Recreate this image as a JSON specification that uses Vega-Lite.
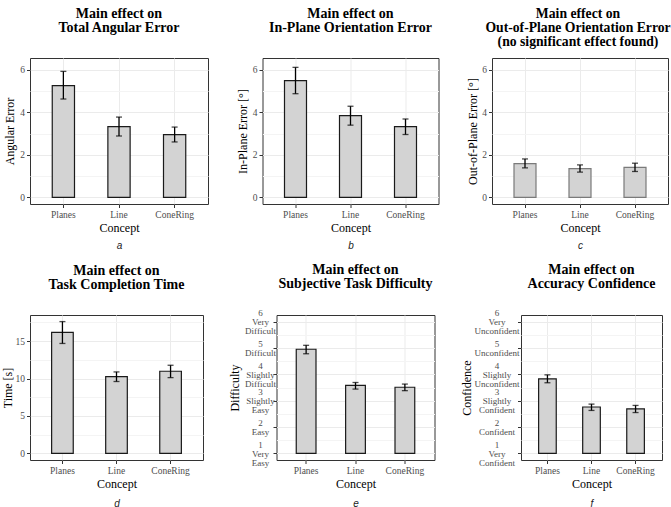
{
  "$schema": "https://vega.github.io/schema/vega-lite/v6.json",
  "padding": {"top": 6, "left": 0, "right": 0, "bottom": 0},
  "background": "white",
  "columns": 1,
  "align": "none",
  "center": false,
  "spacing": 11,
  "config": {
    "view": {"stroke": "#333333", "strokeWidth": 1},
    "title": {"font": "Liberation Serif", "fontSize": 14, "fontWeight": "bold", "lineHeight": 14, "anchor": "middle", "frame": "group", "offset": 9, "color": "black"},
    "axis": {"labelFont": "Liberation Serif", "labelFontSize": 9.5, "labelColor": "#4d4d4d", "titleFont": "Liberation Serif", "titleFontSize": 12, "titleFontWeight": "normal", "titleColor": "black", "tickColor": "#333333", "tickSize": 3.5, "tickWidth": 1, "domain": false, "gridColor": "#ebebeb", "gridWidth": 1, "labelPadding": 2, "titlePadding": 3, "labelOverlap": false, "labelFlush": false, "minExtent": 0}
  },
  "datasets": {
    "a": [{"Concept": "Planes", "mean": 5.26, "lo": 4.63, "hi": 5.93}, {"Concept": "Line", "mean": 3.33, "lo": 2.89, "hi": 3.78}, {"Concept": "ConeRing", "mean": 2.95, "lo": 2.61, "hi": 3.31}],
    "b": [{"Concept": "Planes", "mean": 5.5, "lo": 4.88, "hi": 6.12}, {"Concept": "Line", "mean": 3.85, "lo": 3.4, "hi": 4.29}, {"Concept": "ConeRing", "mean": 3.33, "lo": 2.96, "hi": 3.69}],
    "c": [{"Concept": "Planes", "mean": 1.59, "lo": 1.39, "hi": 1.81}, {"Concept": "Line", "mean": 1.35, "lo": 1.19, "hi": 1.53}, {"Concept": "ConeRing", "mean": 1.41, "lo": 1.22, "hi": 1.61}],
    "d": [{"Concept": "Planes", "mean": 16.15, "lo": 14.68, "hi": 17.6}, {"Concept": "Line", "mean": 10.24, "lo": 9.6, "hi": 10.88}, {"Concept": "ConeRing", "mean": 10.97, "lo": 10.12, "hi": 11.77}],
    "e": [{"Concept": "Planes", "mean": 4.95, "lo": 4.78, "hi": 5.1}, {"Concept": "Line", "mean": 3.58, "lo": 3.44, "hi": 3.69}, {"Concept": "ConeRing", "mean": 3.51, "lo": 3.38, "hi": 3.63}],
    "f": [{"Concept": "Planes", "mean": 3.83, "lo": 3.68, "hi": 3.98}, {"Concept": "Line", "mean": 2.76, "lo": 2.63, "hi": 2.87}, {"Concept": "ConeRing", "mean": 2.69, "lo": 2.55, "hi": 2.82}]
  },
  "concat": [
    {
      "spacing": 26.5,
      "hconcat": [
        {
          "width": 178, "height": 146,
          "title": {"text": ["Main effect on", "Total Angular Error", ""]},
          "data": {"name": "a"},
          "resolve": {"axis": {"x": "independent", "y": "independent"}},
          "layer": [
            {"mark": {"type": "bar", "fill": "#d3d3d3", "stroke": "#1a1a1a", "strokeWidth": 1.2},
             "encoding": {
               "x": {"field": "Concept", "type": "nominal", "sort": ["Planes", "Line", "ConeRing"], "scale": {"paddingInner": 0.6, "paddingOuter": 0.4}, "axis": {"title": "Concept", "bandPosition": 0.5, "grid": true, "labelAngle": 0, "orient": "bottom"}},
               "y": {"field": "mean", "type": "quantitative", "scale": {"domain": [-0.31, 6.56], "nice": false, "zero": false}, "axis": {"title": "Angular Error", "values": [0, 2, 4, 6], "grid": true, "orient": "left"}},
               "y2": {"datum": 0}
             }},
            {"mark": {"type": "rule", "color": "black", "strokeWidth": 1.3},
             "encoding": {
               "x": {"field": "Concept", "type": "nominal", "sort": ["Planes", "Line", "ConeRing"], "axis": {"orient": "bottom", "offset": 34, "labels": false, "ticks": false, "domain": false, "grid": false, "title": "a", "titleFont": "Liberation Sans", "titleFontStyle": "italic", "titleFontSize": 10, "titlePadding": 2, "titleColor": "#222222"}},
               "y": {"field": "lo", "type": "quantitative", "axis": {"orient": "right", "values": [1, 3, 5], "grid": true, "gridColor": "#f4f4f4", "labels": false, "ticks": false, "domain": false, "title": null}},
               "y2": {"field": "hi"}
             }},
            {"mark": {"type": "tick", "color": "black", "size": 6, "thickness": 1.3},
             "encoding": {"x": {"field": "Concept", "type": "nominal", "sort": ["Planes", "Line", "ConeRing"], "axis": null}, "y": {"field": "lo", "type": "quantitative", "axis": null}}},
            {"mark": {"type": "tick", "color": "black", "size": 6, "thickness": 1.3},
             "encoding": {"x": {"field": "Concept", "type": "nominal", "sort": ["Planes", "Line", "ConeRing"], "axis": null}, "y": {"field": "hi", "type": "quantitative", "axis": null}}}
          ]
        },
        {
          "width": 176, "height": 146,
          "title": {"text": ["Main effect on", "In-Plane Orientation Error", ""]},
          "data": {"name": "b"},
          "resolve": {"axis": {"x": "independent", "y": "independent"}},
          "layer": [
            {"mark": {"type": "bar", "fill": "#d3d3d3", "stroke": "#1a1a1a", "strokeWidth": 1.2},
             "encoding": {
               "x": {"field": "Concept", "type": "nominal", "sort": ["Planes", "Line", "ConeRing"], "scale": {"paddingInner": 0.6, "paddingOuter": 0.4}, "axis": {"title": "Concept", "bandPosition": 0.5, "grid": true, "labelAngle": 0, "orient": "bottom"}},
               "y": {"field": "mean", "type": "quantitative", "scale": {"domain": [-0.31, 6.56], "nice": false, "zero": false}, "axis": {"title": "In-Plane Error [°]", "values": [0, 2, 4, 6], "grid": true, "orient": "left"}},
               "y2": {"datum": 0}
             }},
            {"mark": {"type": "rule", "color": "black", "strokeWidth": 1.3},
             "encoding": {
               "x": {"field": "Concept", "type": "nominal", "sort": ["Planes", "Line", "ConeRing"], "axis": {"orient": "bottom", "offset": 34, "labels": false, "ticks": false, "domain": false, "grid": false, "title": "b", "titleFont": "Liberation Sans", "titleFontStyle": "italic", "titleFontSize": 10, "titlePadding": 2, "titleColor": "#222222"}},
               "y": {"field": "lo", "type": "quantitative", "axis": {"orient": "right", "values": [1, 3, 5], "grid": true, "gridColor": "#f4f4f4", "labels": false, "ticks": false, "domain": false, "title": null}},
               "y2": {"field": "hi"}
             }},
            {"mark": {"type": "tick", "color": "black", "size": 6, "thickness": 1.3},
             "encoding": {"x": {"field": "Concept", "type": "nominal", "sort": ["Planes", "Line", "ConeRing"], "axis": null}, "y": {"field": "lo", "type": "quantitative", "axis": null}}},
            {"mark": {"type": "tick", "color": "black", "size": 6, "thickness": 1.3},
             "encoding": {"x": {"field": "Concept", "type": "nominal", "sort": ["Planes", "Line", "ConeRing"], "axis": null}, "y": {"field": "hi", "type": "quantitative", "axis": null}}}
          ]
        },
        {
          "width": 176, "height": 146,
          "title": {"text": ["Main effect on", "Out-of-Plane Orientation Error", "(no significant effect found)"], "fontSize": 13.7, "dx": -2},
          "data": {"name": "c"},
          "resolve": {"axis": {"x": "independent", "y": "independent"}},
          "layer": [
            {"mark": {"type": "bar", "fill": "#d3d3d3", "stroke": "#7a7a7a", "strokeWidth": 1.2},
             "encoding": {
               "x": {"field": "Concept", "type": "nominal", "sort": ["Planes", "Line", "ConeRing"], "scale": {"paddingInner": 0.6, "paddingOuter": 0.4}, "axis": {"title": "Concept", "bandPosition": 0.5, "grid": true, "labelAngle": 0, "orient": "bottom"}},
               "y": {"field": "mean", "type": "quantitative", "scale": {"domain": [-0.31, 6.56], "nice": false, "zero": false}, "axis": {"title": "Out-of-Plane Error [°]", "titlePadding": 2, "values": [0, 2, 4, 6], "grid": true, "orient": "left"}},
               "y2": {"datum": 0}
             }},
            {"mark": {"type": "rule", "color": "black", "strokeWidth": 1.3},
             "encoding": {
               "x": {"field": "Concept", "type": "nominal", "sort": ["Planes", "Line", "ConeRing"], "axis": {"orient": "bottom", "offset": 34, "labels": false, "ticks": false, "domain": false, "grid": false, "title": "c", "titleFont": "Liberation Sans", "titleFontStyle": "italic", "titleFontSize": 10, "titlePadding": 2, "titleColor": "#222222"}},
               "y": {"field": "lo", "type": "quantitative", "axis": {"orient": "right", "values": [1, 3, 5], "grid": true, "gridColor": "#f4f4f4", "labels": false, "ticks": false, "domain": false, "title": null}},
               "y2": {"field": "hi"}
             }},
            {"mark": {"type": "tick", "color": "black", "size": 6, "thickness": 1.3},
             "encoding": {"x": {"field": "Concept", "type": "nominal", "sort": ["Planes", "Line", "ConeRing"], "axis": null}, "y": {"field": "lo", "type": "quantitative", "axis": null}}},
            {"mark": {"type": "tick", "color": "black", "size": 6, "thickness": 1.3},
             "encoding": {"x": {"field": "Concept", "type": "nominal", "sort": ["Planes", "Line", "ConeRing"], "axis": null}, "y": {"field": "hi", "type": "quantitative", "axis": null}}}
          ]
        }
      ]
    },
    {
      "spacing": 23.5,
      "hconcat": [
        {
          "width": 173, "height": 145,
          "title": {"text": ["Main effect on", "Task Completion Time", ""]},
          "data": {"name": "d"},
          "resolve": {"axis": {"x": "independent", "y": "independent"}},
          "layer": [
            {"mark": {"type": "bar", "fill": "#d3d3d3", "stroke": "#1a1a1a", "strokeWidth": 1.2},
             "encoding": {
               "x": {"field": "Concept", "type": "nominal", "sort": ["Planes", "Line", "ConeRing"], "scale": {"paddingInner": 0.6, "paddingOuter": 0.4}, "axis": {"title": "Concept", "bandPosition": 0.5, "grid": true, "labelAngle": 0, "orient": "bottom"}},
               "y": {"field": "mean", "type": "quantitative", "scale": {"domain": [-0.88, 18.48], "nice": false, "zero": false}, "axis": {"title": "Time [s]", "titlePadding": 1, "values": [0, 5, 10, 15], "grid": true, "orient": "left"}},
               "y2": {"datum": 0}
             }},
            {"mark": {"type": "rule", "color": "black", "strokeWidth": 1.3},
             "encoding": {
               "x": {"field": "Concept", "type": "nominal", "sort": ["Planes", "Line", "ConeRing"], "axis": {"orient": "bottom", "offset": 36, "labels": false, "ticks": false, "domain": false, "grid": false, "title": "d", "titleFont": "Liberation Sans", "titleFontStyle": "italic", "titleFontSize": 10, "titlePadding": 2, "titleColor": "#222222"}},
               "y": {"field": "lo", "type": "quantitative", "axis": {"orient": "right", "values": [2.5, 7.5, 12.5, 17.5], "grid": true, "gridColor": "#f4f4f4", "labels": false, "ticks": false, "domain": false, "title": null}},
               "y2": {"field": "hi"}
             }},
            {"mark": {"type": "tick", "color": "black", "size": 6, "thickness": 1.3},
             "encoding": {"x": {"field": "Concept", "type": "nominal", "sort": ["Planes", "Line", "ConeRing"], "axis": null}, "y": {"field": "lo", "type": "quantitative", "axis": null}}},
            {"mark": {"type": "tick", "color": "black", "size": 6, "thickness": 1.3},
             "encoding": {"x": {"field": "Concept", "type": "nominal", "sort": ["Planes", "Line", "ConeRing"], "axis": null}, "y": {"field": "hi", "type": "quantitative", "axis": null}}}
          ]
        },
        {
          "width": 158, "height": 145,
          "title": {"text": ["Main effect on", "Subjective Task Difficulty", ""], "offset": 4},
          "data": {"name": "e"},
          "resolve": {"axis": {"x": "independent", "y": "independent"}},
          "layer": [
            {"mark": {"type": "bar", "fill": "#d3d3d3", "stroke": "#1a1a1a", "strokeWidth": 1.2},
             "encoding": {
               "x": {"field": "Concept", "type": "nominal", "sort": ["Planes", "Line", "ConeRing"], "scale": {"paddingInner": 0.6, "paddingOuter": 0.4}, "axis": {"title": "Concept", "bandPosition": 0.5, "grid": true, "labelAngle": 0, "orient": "bottom"}},
               "y": {"field": "mean", "type": "quantitative", "scale": {"domain": [0.75, 6.25], "nice": false, "zero": false}, "axis": {"title": "Difficulty", "values": [1, 2, 3, 4, 5, 6], "grid": true, "orient": "left", "labelAlign": "center", "labelPadding": 13, "labelFontSize": 9, "labelLineHeight": 8.7, "labelOffset": {"condition": {"test": "datum.value == 2 || datum.value == 5", "value": -4.35}, "value": -8.7}, "labelExpr": "datum.value == 6 ? ['6', 'Very', 'Difficult'] : datum.value == 5 ? ['5', 'Difficult'] : datum.value == 4 ? ['4', 'Slightly', 'Difficult'] : datum.value == 3 ? ['3', 'Slightly', 'Easy'] : datum.value == 2 ? ['2', 'Easy'] : ['1', 'Very', 'Easy']"}},
               "y2": {"datum": 1}
             }},
            {"mark": {"type": "rule", "color": "black", "strokeWidth": 1.3},
             "encoding": {
               "x": {"field": "Concept", "type": "nominal", "sort": ["Planes", "Line", "ConeRing"], "axis": {"orient": "bottom", "offset": 36, "labels": false, "ticks": false, "domain": false, "grid": false, "title": "e", "titleFont": "Liberation Sans", "titleFontStyle": "italic", "titleFontSize": 10, "titlePadding": 2, "titleColor": "#222222"}},
               "y": {"field": "lo", "type": "quantitative", "axis": {"orient": "right", "values": [1.5, 2.5, 3.5, 4.5, 5.5], "grid": true, "gridColor": "#f4f4f4", "labels": false, "ticks": false, "domain": false, "title": null}},
               "y2": {"field": "hi"}
             }},
            {"mark": {"type": "tick", "color": "black", "size": 6, "thickness": 1.3},
             "encoding": {"x": {"field": "Concept", "type": "nominal", "sort": ["Planes", "Line", "ConeRing"], "axis": null}, "y": {"field": "lo", "type": "quantitative", "axis": null}}},
            {"mark": {"type": "tick", "color": "black", "size": 6, "thickness": 1.3},
             "encoding": {"x": {"field": "Concept", "type": "nominal", "sort": ["Planes", "Line", "ConeRing"], "axis": null}, "y": {"field": "hi", "type": "quantitative", "axis": null}}}
          ]
        },
        {
          "width": 141, "height": 145,
          "title": {"text": ["Main effect on", "Accuracy Confidence", ""], "offset": 4},
          "data": {"name": "f"},
          "resolve": {"axis": {"x": "independent", "y": "independent"}},
          "layer": [
            {"mark": {"type": "bar", "fill": "#d3d3d3", "stroke": "#1a1a1a", "strokeWidth": 1.2},
             "encoding": {
               "x": {"field": "Concept", "type": "nominal", "sort": ["Planes", "Line", "ConeRing"], "scale": {"paddingInner": 0.6, "paddingOuter": 0.4}, "axis": {"title": "Concept", "bandPosition": 0.5, "grid": true, "labelAngle": 0, "orient": "bottom"}},
               "y": {"field": "mean", "type": "quantitative", "scale": {"domain": [0.75, 6.25], "nice": false, "zero": false}, "axis": {"title": "Confidence", "titlePadding": 1, "values": [1, 2, 3, 4, 5, 6], "grid": true, "orient": "left", "labelAlign": "center", "labelPadding": 21, "labelFontSize": 9, "labelLineHeight": 8.7, "labelOffset": {"condition": {"test": "datum.value == 2 || datum.value == 5", "value": -4.35}, "value": -8.7}, "labelExpr": "datum.value == 6 ? ['6', 'Very', 'Unconfident'] : datum.value == 5 ? ['5', 'Unconfident'] : datum.value == 4 ? ['4', 'Slightly', 'Unconfident'] : datum.value == 3 ? ['3', 'Slightly', 'Confident'] : datum.value == 2 ? ['2', 'Confident'] : ['1', 'Very', 'Confident']"}},
               "y2": {"datum": 1}
             }},
            {"mark": {"type": "rule", "color": "black", "strokeWidth": 1.3},
             "encoding": {
               "x": {"field": "Concept", "type": "nominal", "sort": ["Planes", "Line", "ConeRing"], "axis": {"orient": "bottom", "offset": 36, "labels": false, "ticks": false, "domain": false, "grid": false, "title": "f", "titleFont": "Liberation Sans", "titleFontStyle": "italic", "titleFontSize": 10, "titlePadding": 2, "titleColor": "#222222"}},
               "y": {"field": "lo", "type": "quantitative", "axis": {"orient": "right", "values": [1.5, 2.5, 3.5, 4.5, 5.5], "grid": true, "gridColor": "#f4f4f4", "labels": false, "ticks": false, "domain": false, "title": null}},
               "y2": {"field": "hi"}
             }},
            {"mark": {"type": "tick", "color": "black", "size": 6, "thickness": 1.3},
             "encoding": {"x": {"field": "Concept", "type": "nominal", "sort": ["Planes", "Line", "ConeRing"], "axis": null}, "y": {"field": "lo", "type": "quantitative", "axis": null}}},
            {"mark": {"type": "tick", "color": "black", "size": 6, "thickness": 1.3},
             "encoding": {"x": {"field": "Concept", "type": "nominal", "sort": ["Planes", "Line", "ConeRing"], "axis": null}, "y": {"field": "hi", "type": "quantitative", "axis": null}}}
          ]
        }
      ]
    }
  ]
}
